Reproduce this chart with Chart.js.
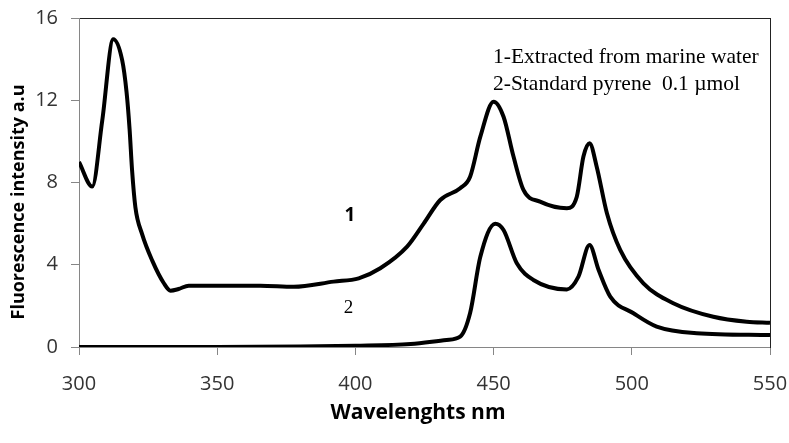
<!DOCTYPE html>
<html><head><meta charset="utf-8">
<script src="https://cdn.jsdelivr.net/npm/chart.js@4"></script>
<style>html,body{margin:0;padding:0;background:#fff}#wrap{width:789px;height:443px}</style>
</head><body><div id="wrap"><canvas id="c" width="789" height="443"></canvas></div>
<script>
const wavelengths1 = [300,304.8,308.4,312.4,315.6,317.2,318.3,319.2,320.4,322.8,326.5,330.7,333.1,336,339.7,365.6,377.7,392.1,401.2,409,418.7,424.7,430.7,437.9,441.5,445.2,450,453.6,457.2,460.8,466.8,476.5,480.1,482.5,484.7,487.3,491,495.8,504.2,515,529.5,541.6,550];
const intensity1   = [9.0,7.8,11.0,14.97,13.96,12.4,10.6,8.6,6.8,5.5,4.2,3.1,2.74,2.82,2.98,2.98,2.93,3.18,3.34,3.83,4.88,6.0,7.15,7.72,8.28,10.23,11.93,11.2,9.26,7.64,7.07,6.75,7.31,9.26,9.91,8.77,6.5,4.72,3.1,2.13,1.47,1.23,1.18];
const wavelengths2 = [300,350,380,400,420,433,437.9,441.5,445.2,450.6,453.6,458.4,464.4,476.5,480.7,484.7,488,492.2,500.6,509,523.5,550];
const intensity2   = [0,0,0.02,0.06,0.15,0.34,0.5,1.65,4.39,6.0,5.69,4.07,3.26,2.8,3.42,4.96,3.74,2.45,1.64,0.99,0.67,0.58];
const xTicks = [300,350,400,450,500,550];
const yTicks = [0,4,8,12,16];
const legendLines = ["1-Extracted from marine water","2-Standard pyrene  0.1 \u00b5mol"];
const curveLabels = ["1","2"];
const xTitle = "Wavelenghts nm";
const yTitle = "Fluorescence intensity a.u";

const pts = (xs, ys) => xs.map((x,i)=>({x, y: ys[i]}));

const annot = {
  id: 'annot',
  afterDraw(chart) {
    const ctx = chart.ctx, xs = chart.scales.x, ys = chart.scales.y;
    ctx.save();
    ctx.fillStyle = '#000';
    ctx.font = '21.5px "Liberation Serif"';
    ctx.textBaseline = 'alphabetic'; ctx.textAlign = 'left';
    ctx.fillText(legendLines[0], 493, 63);
    ctx.fillText(legendLines[1], 493, 90);
    ctx.font = 'bold 19px "Open Sans"';
    ctx.textAlign = 'center'; ctx.textBaseline = 'middle';
    ctx.fillText(curveLabels[0], xs.getPixelForValue(398), ys.getPixelForValue(6.4));
    ctx.font = '19px "Liberation Serif"';
    ctx.fillText(curveLabels[1], xs.getPixelForValue(397.5), ys.getPixelForValue(1.9));
    ctx.font = 'bold 21px "Open Sans"';
    ctx.fillText(xTitle, 418, 413);
    ctx.translate(19, 202);
    ctx.rotate(-Math.PI / 2);
    ctx.font = 'bold 18px "Open Sans"';
    ctx.fillText(yTitle, 0, 0);
    ctx.restore();
  }
};

const frameAxis = (pos, extra) => Object.assign({
  position: pos, display: true,
  grid: { display: false, drawTicks: false },
  ticks: { display: false },
  border: { display: true, color: '#222', width: 1 }
}, extra);

new Chart(document.getElementById('c'), {
  type: 'line',
  data: { datasets: [
    { data: pts(wavelengths1, intensity1), borderColor: '#000', borderWidth: 4, pointRadius: 0, cubicInterpolationMode: 'monotone', fill: false },
    { data: pts(wavelengths2, intensity2), borderColor: '#000', borderWidth: 4, pointRadius: 0, cubicInterpolationMode: 'monotone', fill: false }
  ]},
  options: {
    responsive: false, animation: false, devicePixelRatio: 1,
    layout: { padding: { top: 18, right: 19, left: 0, bottom: 0 } },
    plugins: { legend: { display: false }, tooltip: { enabled: false } },
    scales: {
      x: {
        type: 'linear', min: 300, max: 550,
        afterBuildTicks: s => { s.ticks = xTicks.map(v => ({value: v})); },
        afterFit: s => { s.height = 96; s.paddingRight = 0; s.paddingLeft = 0; },
        grid: { drawOnChartArea: false, drawTicks: true, tickLength: 8, color: '#868686' },
        border: { color: '#868686', width: 1 },
        ticks: { color: '#333', font: { family: 'Open Sans', size: 20 }, padding: 17, maxRotation: 0 },
        title: { display: false }
      },
      xTop: frameAxis('top', { type: 'linear', min: 300, max: 550, afterFit: s => { s.height = 0; s.paddingLeft = 0; s.paddingRight = 0; } }),
      y: {
        min: 0, max: 16,
        afterBuildTicks: s => { s.ticks = yTicks.map(v => ({value: v})); },
        afterFit: s => { s.width = 79; s.paddingTop = 0; s.paddingBottom = 0; },
        grid: { drawOnChartArea: false, drawTicks: true, tickLength: 8, color: '#868686' },
        border: { color: '#868686', width: 1 },
        ticks: { color: '#333', font: { family: 'Open Sans', size: 20 }, padding: 13 },
        title: { display: false }
      },
      yRight: frameAxis('right', { type: 'linear', min: 0, max: 16, afterFit: s => { s.width = 0; s.paddingTop = 0; s.paddingBottom = 0; } })
    }
  },
  plugins: [annot]
});
</script></body></html>
